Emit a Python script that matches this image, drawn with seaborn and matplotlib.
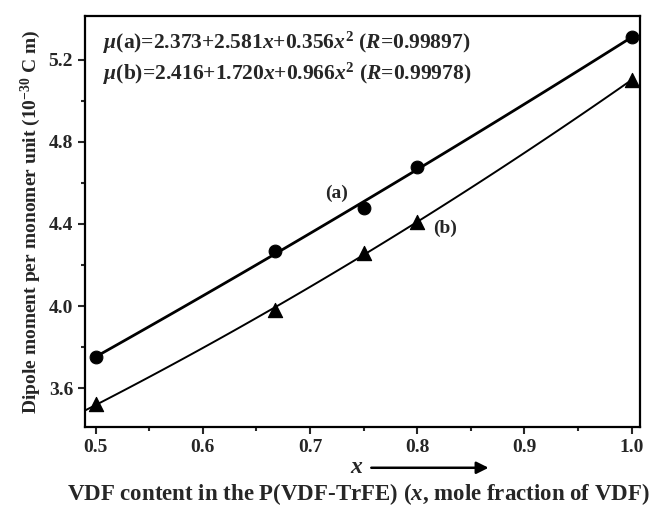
import numpy as np
import pandas as pd
import matplotlib
matplotlib.use("Agg")
import matplotlib.pyplot as plt
import seaborn as sns

# Data
x_vals = [0.5, 0.667, 0.75, 0.8, 1.0]
mu_a = [3.75, 4.27, 4.48, 4.68, 5.31]
mu_b = [3.52, 3.98, 4.26, 4.41, 5.10]
# Fit coefficients shown on the chart: c0 + c1 x + c2 x^2
coef_a = [2.373, 2.581, 0.356]
coef_b = [2.416, 1.720, 0.966]
eq_a = r"$\mu$(a)=2.373+2.581$x$+0.356$x^2$ ($R$=0.99897)"
eq_b = r"$\mu$(b)=2.416+1.720$x$+0.966$x^2$ ($R$=0.99978)"
x_ticks = [0.5, 0.6, 0.7, 0.8, 0.9, 1.0]
y_ticks = [3.6, 4.0, 4.4, 4.8, 5.2]

sns.set_theme(style="ticks")
plt.rcParams["font.family"] = ["Liberation Serif", "DejaVu Serif"]
plt.rcParams["font.weight"] = "bold"
plt.rcParams["mathtext.fontset"] = "custom"
plt.rcParams["mathtext.rm"] = "Liberation Serif:bold"
plt.rcParams["mathtext.it"] = "Liberation Serif:italic:bold"
plt.rcParams["mathtext.bf"] = "Liberation Serif:bold"

fig = plt.figure(figsize=(6.64, 5.09), dpi=100)
ax = fig.add_axes([0.128, 0.161, 0.836, 0.808])

def poly(c, xs):
    xs = np.asarray(xs)
    return c[0] + c[1] * xs + c[2] * xs ** 2

xa = np.linspace(0.5, 1.0, 100)
xb = np.linspace(0.49, 1.0, 100)
fit_a = pd.DataFrame({"x": xa, "y": poly(coef_a, xa)})
fit_b = pd.DataFrame({"x": xb, "y": poly(coef_b, xb)})
sns.lineplot(data=fit_a, x="x", y="y", ax=ax, color="black", lw=2.0)
sns.lineplot(data=fit_b, x="x", y="y", ax=ax, color="black", lw=1.4)

pts = pd.DataFrame({"x": x_vals, "a": mu_a, "b": mu_b})
sns.scatterplot(data=pts, x="x", y="a", ax=ax, color="black", marker="o", s=85,
                edgecolor="black", zorder=5, clip_on=False)
sns.scatterplot(data=pts, x="x", y="b", ax=ax, color="black", marker="^", s=105,
                edgecolor="black", zorder=5, clip_on=False)

ax.set_xlim(0.49, 1.008)
ax.set_ylim(3.41, 5.415)
ax.set_xticks(x_ticks)
ax.set_xticklabels([f"{v:.1f}" for v in x_ticks])
ax.set_yticks(y_ticks)
ax.set_yticklabels([f"{v:.1f}" for v in y_ticks])
ax.set_xticks(np.arange(0.55, 1.0, 0.1), minor=True)
ax.set_yticks(np.arange(3.8, 5.3, 0.4), minor=True)
ax.tick_params(which="major", direction="out", length=5, width=1.5, labelsize=14)
ax.tick_params(which="minor", direction="out", length=3, width=1.5)
for s in ax.spines.values():
    s.set_linewidth(1.6)
    s.set_color("black")

ax.set_xlabel("")
ax.set_ylabel("Dipole moment per monomer unit (10$^{-30}$ C m)", fontsize=14,
              fontweight="bold", labelpad=4)

ax.text(0.032, 0.935, eq_a, transform=ax.transAxes, fontsize=15.5, fontweight="bold",
        va="center", ha="left")
ax.text(0.032, 0.858, eq_b, transform=ax.transAxes, fontsize=15.5, fontweight="bold",
        va="center", ha="left")
ax.text(0.725, 4.55, "(a)", fontsize=14, fontweight="bold", ha="center", va="center")
ax.text(0.826, 4.38, "(b)", fontsize=14, fontweight="bold", ha="center", va="center")

fig.text(0.537, 0.081, "$x$", fontsize=17, ha="center", va="center")
fig.add_artist(matplotlib.patches.FancyArrowPatch((0.555, 0.081), (0.74, 0.081),
               transform=fig.transFigure, arrowstyle="-|>", mutation_scale=18,
               color="black", lw=1.8))
fig.text(0.540, 0.030, "VDF content in the P(VDF-TrFE) ($x$, mole fraction of VDF)",
         fontsize=16.5, fontweight="bold", ha="center", va="center")

fig.savefig("out.png", dpi=100)
